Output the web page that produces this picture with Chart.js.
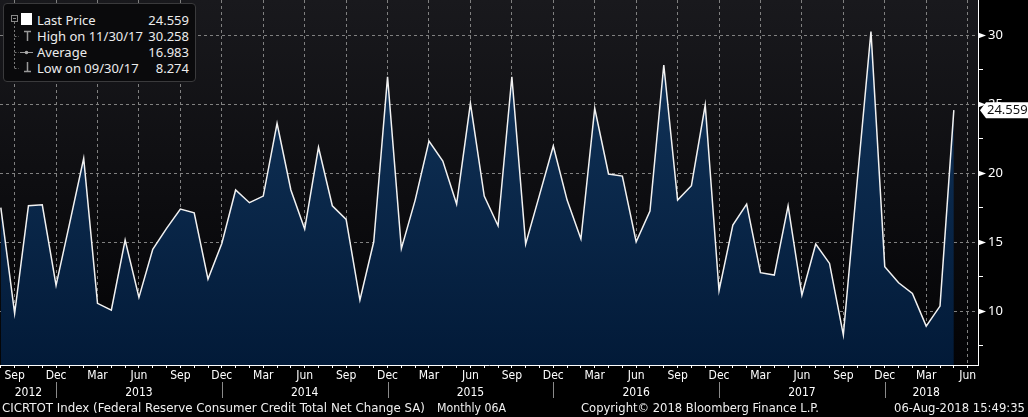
<!DOCTYPE html>
<html>
<head>
<meta charset="utf-8">
<script src="https://cdn.jsdelivr.net/npm/chart.js@4.4.1/dist/chart.umd.min.js"></script>
<style>
html,body{margin:0;padding:0;background:#000;overflow:hidden;}
#wrap{position:relative;width:1028px;height:417px;background:#000;}
#c{position:absolute;left:0;top:0;}
#legend{position:absolute;left:3px;top:3px;width:191px;height:77px;background:#0a0a0c;border:1px solid #3a3a3c;border-radius:4px;font-family:"Noto Sans",sans-serif;font-size:13px;color:#ececec;}
.row{position:absolute;left:33px;right:6px;height:16px;line-height:16px;white-space:nowrap;}
.row .v{position:absolute;right:0;top:0;}
#icons{position:absolute;left:0;top:0;}
.foot{position:absolute;top:400px;height:16px;line-height:16px;font-family:"DejaVu Sans Condensed","Liberation Sans Narrow",sans-serif;font-size:13px;color:#f0f0f0;white-space:nowrap;transform-origin:0 50%;}
</style>
</head>
<body>
<div id="wrap">
<canvas id="c" width="1028" height="417"></canvas>
<div id="legend"></div>
<svg id="icons" width="40" height="80">
  <rect x="11.5" y="15.5" width="6" height="6" fill="none" stroke="#888" stroke-width="1"/>
  <line x1="13" y1="18.5" x2="16" y2="18.5" stroke="#888" stroke-width="1"/>
  <line x1="14.5" y1="22" x2="14.5" y2="69" stroke="#777" stroke-width="1" stroke-dasharray="2,2"/>
  <line x1="14.5" y1="36.5" x2="19" y2="36.5" stroke="#777" stroke-width="1" stroke-dasharray="2,2"/>
  <line x1="14.5" y1="52.5" x2="19" y2="52.5" stroke="#777" stroke-width="1" stroke-dasharray="2,2"/>
  <line x1="14.5" y1="68.5" x2="19" y2="68.5" stroke="#777" stroke-width="1" stroke-dasharray="2,2"/>
  <rect x="21" y="13" width="11" height="12" fill="#fff"/>
  <line x1="24" y1="31.5" x2="31" y2="31.5" stroke="#999" stroke-width="1.5"/>
  <line x1="27.5" y1="31.5" x2="27.5" y2="41" stroke="#999" stroke-width="1.5"/>
  <line x1="20" y1="52.5" x2="33" y2="52.5" stroke="#999" stroke-width="1"/>
  <circle cx="26.5" cy="52.5" r="1.8" fill="#aaa"/>
  <line x1="27.5" y1="62" x2="27.5" y2="71" stroke="#999" stroke-width="1.5"/>
  <line x1="24" y1="71.5" x2="31" y2="71.5" stroke="#999" stroke-width="1.5"/>
</svg>
<div id="footer"></div>
</div>
<script>
// ---- data ----
const axisMonths = [
 '2012-08','2012-09','2012-10','2012-11','2012-12',
 '2013-01','2013-02','2013-03','2013-04','2013-05','2013-06','2013-07','2013-08','2013-09','2013-10','2013-11','2013-12',
 '2014-01','2014-02','2014-03','2014-04','2014-05','2014-06','2014-07','2014-08','2014-09','2014-10','2014-11','2014-12',
 '2015-01','2015-02','2015-03','2015-04','2015-05','2015-06','2015-07','2015-08','2015-09','2015-10','2015-11','2015-12',
 '2016-01','2016-02','2016-03','2016-04','2016-05','2016-06','2016-07','2016-08','2016-09','2016-10','2016-11','2016-12',
 '2017-01','2017-02','2017-03','2017-04','2017-05','2017-06','2017-07','2017-08','2017-09','2017-10','2017-11','2017-12',
 '2018-01','2018-02','2018-03','2018-04','2018-05','2018-06'
];
const values = [
 17.5, 9.83, 17.63, 17.70, 11.86,
 16.45, 21.06, 10.56, 10.07, 15.14, 10.99, 14.47, 15.99, 17.39, 17.12, 12.32, 14.90,
 18.77, 17.85, 18.33, 23.60, 18.77, 15.94, 21.86, 17.63, 16.64, 10.80, 15.02, 26.98,
 14.52, 18.04, 22.32, 20.87, 17.75, 25.05, 18.33, 16.18, 26.98, 14.86, 18.40, 21.96,
 18.04, 15.22, 24.69, 19.93, 19.78, 15.02, 17.25, 27.83, 18.04, 19.08, 24.93, 11.47,
 16.23, 17.75, 12.78, 12.61, 17.63, 11.16, 14.86, 13.45, 8.274, 19.37, 30.258, 13.21,
 12.05, 11.28, 8.91, 10.36, 24.559
];
const monthAbbr = ['Jan','Feb','Mar','Apr','May','Jun','Jul','Aug','Sep','Oct','Nov','Dec'];
const labeledMonths = ['Mar','Jun','Sep','Dec'];
const years = ['2012','2013','2014','2015','2016','2017','2018'];
const yMajor = [10, 15, 20, 25, 30];
const yMinor = [7.5, 12.5, 17.5, 22.5, 27.5];
const legendRows = [
  ['Last Price', '24.559'],
  ['High on 11/30/17', '30.258'],
  ['Average', '16.983'],
  ['Low on 09/30/17', '8.274']
];
const footerTexts = [
  'CICRTOT Index (Federal Reserve Consumer Credit Total Net Change SA)',
  'Monthly 06A',
  'Copyright\u00A9 2018 Bloomberg Finance L.P.',
  '06-Aug-2018 15:49:35'
];
const footerBoxes = [[2, 423], [437, 69], [581, 238], [894, 131]]; // [left, width] in px

// ---- legend / footer text ----
const lg = document.getElementById('legend');
legendRows.forEach((r, i) => {
  const d = document.createElement('div');
  d.className = 'row';
  d.style.top = (8 + i * 16) + 'px';
  d.innerHTML = '<span></span><span class="v"></span>';
  d.children[0].textContent = r[0];
  d.children[1].textContent = r[1];
  lg.appendChild(d);
});
const ft = document.getElementById('footer');
footerTexts.forEach((t, i) => {
  const s = document.createElement('span');
  s.className = 'foot';
  s.textContent = t;
  s.style.left = footerBoxes[i][0] + 'px';
  ft.appendChild(s);
  const w = s.getBoundingClientRect().width;
  if (w > 0) s.style.transform = 'scaleX(' + (footerBoxes[i][1] / w).toFixed(4) + ')';
});

// ---- derived helpers ----
const monthOf = i => monthAbbr[parseInt(axisMonths[i].slice(5), 10) - 1];
const decIdx = axisMonths.map((m, i) => m.endsWith('-12') ? i : -1).filter(i => i >= 0);
const bounds = [0, ...decIdx, axisMonths.length - 1];
const yearCenters = years.map((y, i) => (bounds[i] + bounds[i + 1]) / 2);
const isMajorY = v => yMajor.includes(v);

const axisFont = {family: '"DejaVu Sans Condensed", "Liberation Sans Narrow", sans-serif', size: 12};
const numFont = {family: '"Noto Sans", sans-serif', size: 13};

const decorPlugin = {
  id: 'decor',
  beforeDraw(chart) {
    const {ctx, chartArea: a} = chart;
    const g = ctx.createLinearGradient(0, a.top, 0, a.bottom);
    g.addColorStop(0, '#19191d');
    g.addColorStop(1, '#030305');
    ctx.save();
    ctx.fillStyle = g;
    ctx.fillRect(a.left, a.top, a.right - a.left, a.bottom - a.top);
    ctx.restore();
  },
  afterDraw(chart) {
    const {ctx, scales} = chart;
    const x = scales.x, y = scales.y, x2 = scales.x2;
    ctx.save();
    ctx.fillStyle = '#ffffff';
    yMajor.forEach(v => {
      const py = Math.round(y.getPixelForValue(v)) + 0.5;
      ctx.beginPath();
      ctx.moveTo(y.left, py - 3);
      ctx.lineTo(y.left + 8, py);
      ctx.lineTo(y.left, py + 3);
      ctx.closePath();
      ctx.fill();
    });
    ctx.strokeStyle = '#8a8a8a';
    ctx.lineWidth = 1;
    decIdx.forEach(i => {
      const px = Math.round(x.getPixelForValue(i)) + 0.5;
      ctx.beginPath();
      ctx.moveTo(px, x2.top - 1);
      ctx.lineTo(px, x2.top + 15);
      ctx.stroke();
    });
    const last = values[values.length - 1];
    const py = y.getPixelForValue(last);
    const bx = y.left + 2;
    ctx.fillStyle = '#ffffff';
    ctx.beginPath();
    ctx.moveTo(bx, py);
    ctx.lineTo(bx + 6, py - 8);
    ctx.lineTo(chart.width, py - 8);
    ctx.lineTo(chart.width, py + 8);
    ctx.lineTo(bx + 6, py + 8);
    ctx.closePath();
    ctx.fill();
    ctx.fillStyle = '#111111';
    ctx.font = '13px "Noto Sans", sans-serif';
    ctx.textAlign = 'left';
    ctx.textBaseline = 'middle';
    ctx.fillText(last.toFixed(3), bx + 7, py + 0.5);
    ctx.restore();
  }
};

new Chart(document.getElementById('c'), {
  type: 'line',
  data: {
    datasets: [{
      data: values.map((v, i) => ({x: i, y: v})),
      borderColor: '#f2f2f2',
      borderWidth: 1.5,
      pointRadius: 0,
      tension: 0,
      fill: 'start',
      backgroundColor: (context) => {
        const a = context.chart.chartArea;
        if (!a) return '#0b2a4f';
        const g = context.chart.ctx.createLinearGradient(0, a.top, 0, a.bottom);
        g.addColorStop(0, '#14385f');
        g.addColorStop(1, '#021a38');
        return g;
      }
    }]
  },
  options: {
    responsive: false,
    animation: false,
    devicePixelRatio: 1,
    layout: {padding: {left: 0, top: 0, right: 0, bottom: 18}},
    plugins: {legend: {display: false}, title: {display: false}, tooltip: {enabled: false}},
    scales: {
      x: {
        type: 'linear', position: 'bottom', weight: 0, z: 1,
        min: -0.06, max: 70.75,
        afterBuildTicks: s => { s.ticks = axisMonths.map((m, i) => ({value: i})); },
        afterFit: s => { s.height = 18; s.paddingLeft = 0; s.paddingRight = 0; },
        ticks: {
          autoSkip: false, maxRotation: 0, minRotation: 0, padding: 1,
          color: '#ffffff', font: axisFont,
          callback: (v) => labeledMonths.includes(monthOf(v)) ? monthOf(v) : ''
        },
        grid: {
          color: c => (c.tick && labeledMonths.includes(monthOf(c.tick.value))) ? '#808080' : 'rgba(0,0,0,0)',
          lineWidth: 1, tickColor: '#ffffff', tickLength: 3, tickBorderDash: [10, 0]
        },
        border: {display: true, color: '#ffffff', width: 1, dash: [3, 3]}
      },
      x2: {
        type: 'linear', position: 'bottom', weight: 1,
        min: -0.06, max: 70.75,
        afterBuildTicks: s => { s.ticks = yearCenters.map(v => ({value: v})); },
        afterFit: s => { s.height = 16; s.paddingLeft = 0; s.paddingRight = 0; },
        ticks: {
          autoSkip: false, maxRotation: 0, minRotation: 0, padding: 3,
          color: '#ffffff', font: axisFont,
          callback: (v, i) => years[i]
        },
        grid: {display: false, drawTicks: false, tickLength: 0},
        border: {display: false}
      },
      y: {
        type: 'linear', position: 'right', z: 1,
        min: 6.09, max: 32.54,
        afterBuildTicks: s => { s.ticks = [...yMinor, ...yMajor].sort((a, b) => a - b).map(v => ({value: v})); },
        afterFit: s => { s.width = 50; s.paddingTop = 0; s.paddingBottom = 0; },
        ticks: {
          padding: 5, color: '#ffffff', font: numFont,
          callback: v => isMajorY(v) ? String(v) : ''
        },
        grid: {
          color: c => (c.tick && isMajorY(c.tick.value)) ? '#808080' : 'rgba(0,0,0,0)',
          lineWidth: 1,
          tickColor: c => (c.tick && isMajorY(c.tick.value)) ? 'rgba(0,0,0,0)' : '#ffffff',
          tickLength: 5, tickBorderDash: [10, 0]
        },
        border: {display: true, color: '#ffffff', width: 1, dash: [3, 3]}
      }
    }
  },
  plugins: [decorPlugin]
});
</script>
</body>
</html>
